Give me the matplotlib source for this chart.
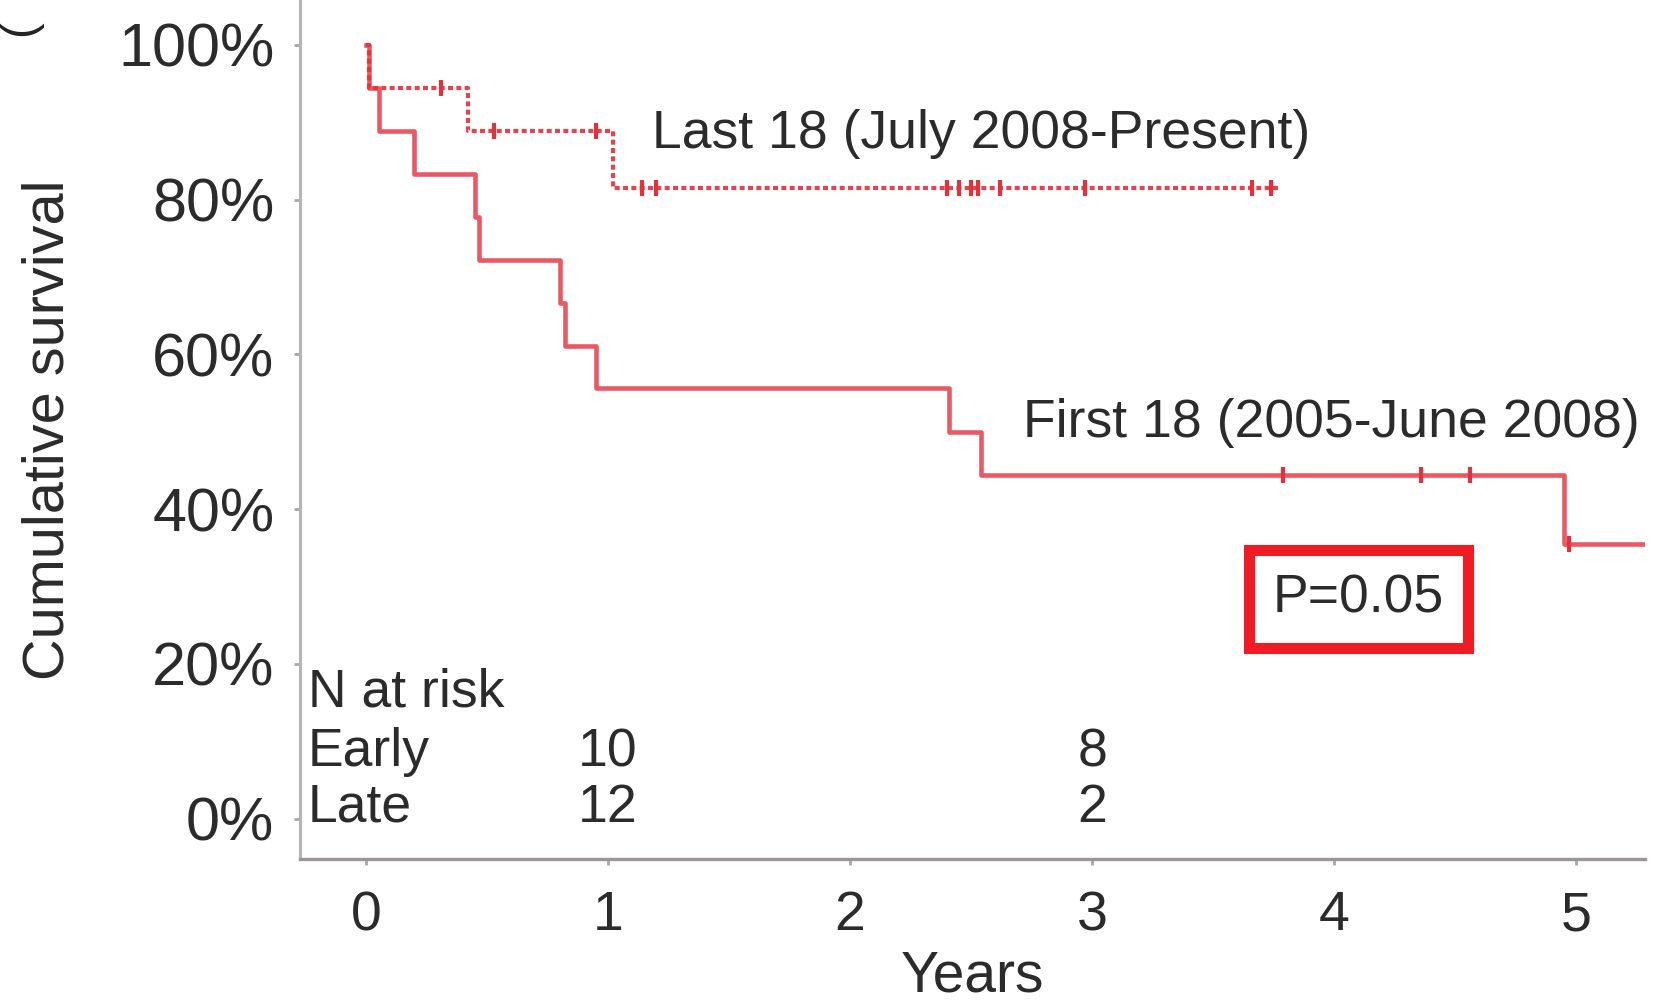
import numpy as np
import matplotlib
matplotlib.use('Agg')
from matplotlib import pyplot as plt
from matplotlib.ticker import PercentFormatter

# Kaplan-Meier steps (years, % surviving)
first_times = [0, 0.01, 0.055, 0.20, 0.45, 0.465, 0.80, 0.82, 0.95, 2.41, 2.54, 4.95, 5.30]
first_surv = [100, 94.4, 88.9, 83.3, 77.8, 72.2, 66.7, 61.1, 55.6, 50.0, 44.4, 35.5, 35.5]
first_censored = [3.79, 4.36, 4.56, 4.97]

last_times = [0, 0.01, 0.42, 1.02, 3.78]
last_surv = [100, 94.4, 88.9, 81.5, 81.5]
last_censored = [0.31, 0.53, 0.95, 1.14, 1.20, 2.40, 2.45, 2.50, 2.53, 2.62, 2.97, 3.66, 3.74]

# numbers at risk table
risk_times = [1, 3]
early_risk = [10, 8]
late_risk = [12, 2]

x_ticks = [0, 1, 2, 3, 4, 5]
y_ticks = [0, 20, 40, 60, 80, 100]

first_label = 'First 18 (2005-June 2008)'
last_label = 'Last 18 (July 2008-Present)'
p_text = 'P=0.05'

plt.rcParams['font.family'] = ['Liberation Sans', 'DejaVu Sans']

red = '#e3303c'
grey_text = '#2b2b2b'


def surv_at(times, surv, t):
    # value of the step function at time t
    idx = np.searchsorted(times, t, side='right') - 1
    return np.array(surv)[idx]


fig = plt.figure(figsize=(16.53, 10.01), dpi=100)
ax = fig.add_axes([0.1815, 0.1419, 0.8137, 0.8581])

ax.plot(first_times, first_surv, drawstyle='steps-post', color=red, lw=3.3, alpha=0.8)
ax.plot(first_censored, surv_at(first_times, first_surv, first_censored), ls='none',
        marker='|', ms=11, mew=3, color=red)

ax.plot(last_times, last_surv, drawstyle='steps-post', color=red, lw=3.0,
        ls=(0, (1.2, 0.8)), alpha=0.9)
ax.plot(last_censored, surv_at(last_times, last_surv, last_censored), ls='none',
        marker='|', ms=11, mew=3, color=red)

ax.set_xlim(-0.273, 5.285)
ax.set_ylim(-5.2, 105.8)
ax.set_xticks(x_ticks)
ax.set_yticks(y_ticks)
ax.yaxis.set_major_formatter(PercentFormatter(xmax=100, decimals=0))

for side in ['top', 'right']:
    ax.spines[side].set_visible(False)
ax.spines['left'].set_color('#b5b5b5')
ax.spines['left'].set_linewidth(2.2)
ax.spines['bottom'].set_color('#9c9595')
ax.spines['bottom'].set_linewidth(2.4)

ax.tick_params(axis='both', colors='#a8a8a8', length=4.5, width=2, labelcolor=grey_text)
ax.tick_params(axis='y', pad=14, labelsize=44)
ax.tick_params(axis='x', pad=18, labelsize=40)

ax.set_ylabel('Cumulative survival', fontsize=41.5, color=grey_text)
ax.yaxis.set_label_coords(-0.167, 0.5)
ax.set_xlabel('Years', fontsize=41, color=grey_text)
ax.xaxis.set_label_coords(0.5, -0.105)

ax.text(1.18, 86.7, last_label, fontsize=38.5, color=grey_text, va='baseline')
ax.text(2.713, 49.3, first_label, fontsize=38.5, color=grey_text, va='baseline')

ax.text(4.10, 28.4, p_text, fontsize=38.5, color=grey_text, ha='center', va='center',
        bbox=dict(boxstyle='square,pad=0.45', fc='white', ec='#ee1c25', lw=8))

# N at risk table
ax.text(-0.24, 14.5, 'N at risk', fontsize=38.5, color=grey_text, va='baseline')
ax.text(-0.24, 6.8, 'Early', fontsize=38.5, color=grey_text, va='baseline')
ax.text(-0.24, -0.4, 'Late', fontsize=38.5, color=grey_text, va='baseline')
for t, e, l in zip(risk_times, early_risk, late_risk):
    ax.text(t, 6.8, str(e), fontsize=38.5, color=grey_text, ha='center', va='baseline')
    ax.text(t, -0.4, str(l), fontsize=38.5, color=grey_text, ha='center', va='baseline')

# fragment of a cropped panel letter in the top-left corner
fig.text(0.012, 0.972, '(', fontsize=34, rotation=90, color='#222222',
         ha='center', va='center')

fig.savefig('out.png', dpi=100)
